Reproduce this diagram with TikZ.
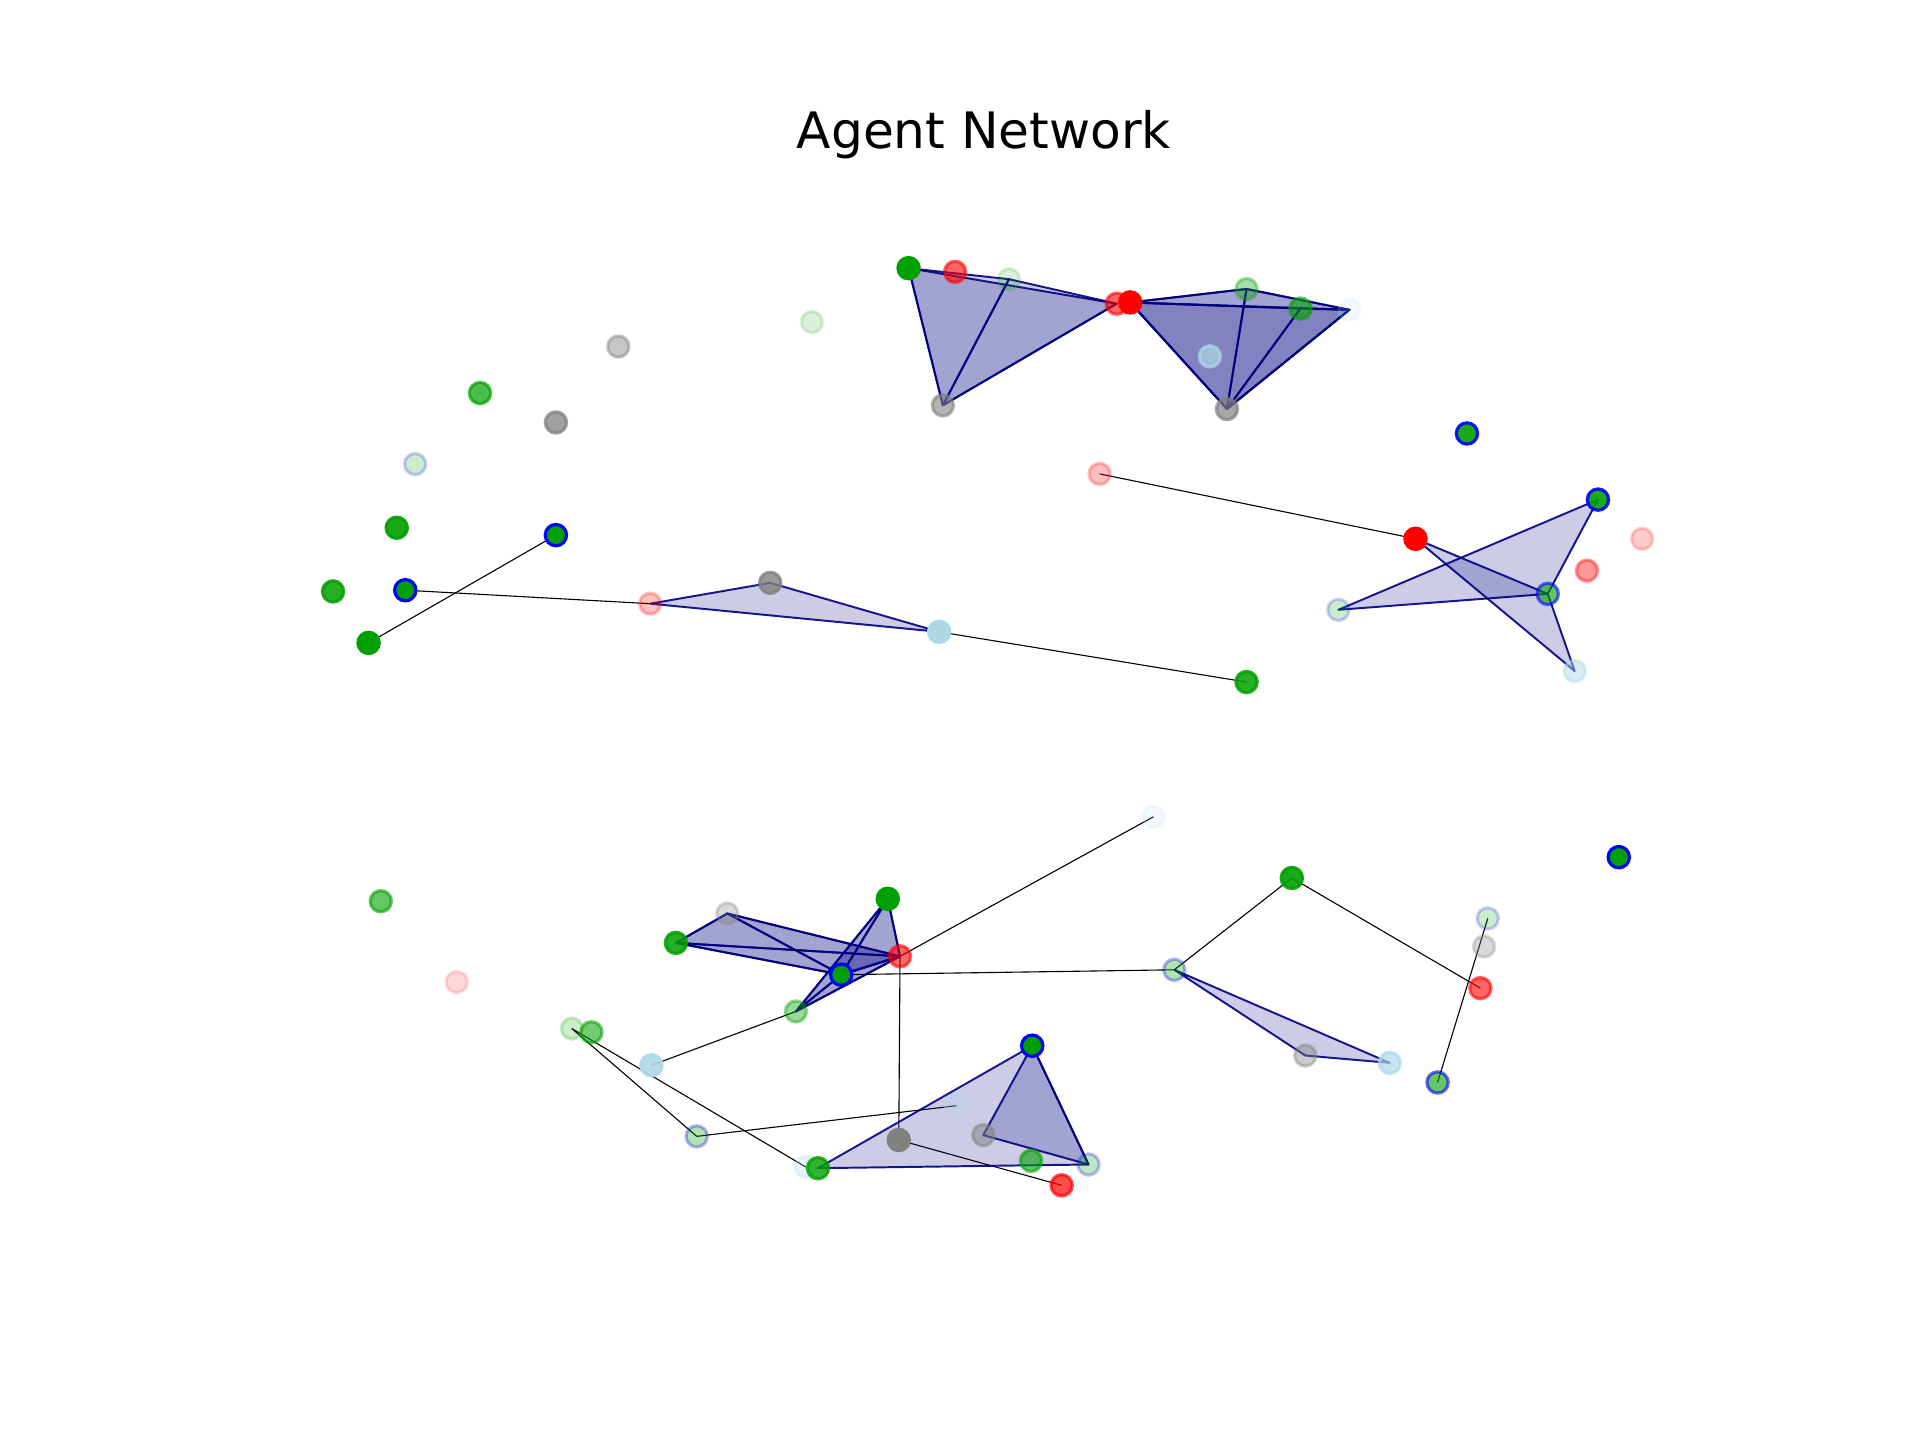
\documentclass[tikz,border=0pt]{standalone}
\usepackage{fontspec}
\newfontfamily\titlefont{DejaVu Sans}
\definecolor{agreen}{RGB}{0,160,0}
\definecolor{ared}{RGB}{255,0,0}
\definecolor{agray}{RGB}{128,128,128}
\definecolor{alblue}{RGB}{173,216,230}
\definecolor{ablue}{RGB}{0,0,255}
\definecolor{anavy}{RGB}{0,0,128}
\tikzset{
  ag/.style n args={3}{circle, inner sep=0pt, minimum size=17.4bp, line width=2.6bp, fill=#1, draw=#2, opacity=#3},
  link/.style={draw=black, line width=0.9bp},
  tri/.style={fill=anavy, fill opacity=0.2, draw=anavy, draw opacity=0.9, line width=1.6bp, line join=round},
}
\begin{document}
\begin{tikzpicture}[x=1bp,y=-1bp]
\useasboundingbox (0,0) rectangle (1568,1176);
% coordinates
\coordinate (t1) at (742,219); \coordinate (t2) at (780,222); \coordinate (t3) at (824,228);
\coordinate (t4) at (912,248); \coordinate (t5) at (923,247); \coordinate (t6) at (770,331);
\coordinate (t7) at (1018,236); \coordinate (t8) at (1062,252); \coordinate (t9) at (1102,253);
\coordinate (t10) at (988,291); \coordinate (t11) at (1002,334);
\coordinate (u1) at (663,263); \coordinate (u2) at (505,283); \coordinate (u3) at (392,321);
\coordinate (u4) at (454,345); \coordinate (u5) at (339,379); \coordinate (u6) at (324,431);
\coordinate (u7) at (272,483); \coordinate (u8) at (331,482); \coordinate (u9) at (454,437);
\coordinate (u10) at (301,525); \coordinate (u11) at (531,493); \coordinate (u12) at (629,476);
\coordinate (u13) at (767,516); \coordinate (u14) at (1018,557);
\coordinate (r1) at (898,387); \coordinate (r2) at (1156,440); \coordinate (r3) at (1198,354);
\coordinate (r4) at (1305,408); \coordinate (r5) at (1341,440); \coordinate (r6) at (1296,466);
\coordinate (r7) at (1264,485); \coordinate (r8) at (1093,498); \coordinate (r9) at (1286,548);
\coordinate (l1) at (942,667); \coordinate (l2) at (311,736); \coordinate (l3) at (373,802);
\coordinate (l4) at (1055,717); \coordinate (l5) at (1322,700); \coordinate (l6) at (1215,750);
\coordinate (l7) at (1212,773); \coordinate (l8) at (1209,807); \coordinate (l9) at (1174,884);
\coordinate (l10) at (959,792); \coordinate (l11) at (1066,862); \coordinate (l12) at (1135,868);
\coordinate (c1) at (594,746); \coordinate (c2) at (552,770); \coordinate (c3) at (725,734);
\coordinate (c4) at (735,781); \coordinate (c5) at (687,796); \coordinate (c6) at (650,826);
\coordinate (c7) at (467,840); \coordinate (c8) at (483,843); \coordinate (c9) at (532,870);
\coordinate (c10) at (569,928); \coordinate (c11) at (781,903); \coordinate (c12) at (658,953);
\coordinate (c13) at (668,954); \coordinate (c14) at (843,854); \coordinate (c15) at (889,951);
\coordinate (c16) at (803,927); \coordinate (c17) at (842,948); \coordinate (c18) at (734,931);
\coordinate (c19) at (867,968);
% title
\node[anchor=base, inner sep=0pt, font=\titlefont\fontsize{41bp}{49bp}\selectfont] (title) at (803.5,121) {Agent Network};
% links
\draw[link] (u9) -- (u10);
\draw[link] (u8) -- (u11);
\draw[link] (u13) -- (u14);
\draw[link] (r1) -- (r2);
\draw[link] (l1) -- (c4);
\draw[link] (c4) -- (c18);
\draw[link] (c18) -- (c19);
\draw[link] (c5) -- (l10);
\draw[link] (l10) -- (l4);
\draw[link] (l4) -- (l8);
\draw[link] (l6) -- (l9);
\draw[link] (c9) -- (c6);
\draw[link] (c7) -- (c10);
\draw[link] (c7) -- (c12);
\draw[link] (c10) -- (c11);
% triangles
\draw[tri] (t1) -- (t4) -- (t6) -- cycle;
\draw[tri] (t1) -- (t3) -- (t6) -- cycle;
\draw[tri] (t3) -- (t4) -- (t6) -- cycle;
\draw[tri] (t5) -- (t9) -- (t11) -- cycle;
\draw[tri] (t5) -- (t7) -- (t11) -- cycle;
\draw[tri] (t7) -- (t9) -- (t11) -- cycle;
\draw[tri] (t5) -- (t7) -- (t9) -- cycle;
\draw[tri] (t5) -- (t8) -- (t11) -- cycle;
\draw[tri] (t8) -- (t9) -- (t11) -- cycle;
\draw[tri] (u11) -- (u12) -- (u13) -- cycle;
\draw[tri] (r8) -- (r4) -- (r7) -- cycle;
\draw[tri] (r2) -- (r7) -- (r9) -- cycle;
\draw[tri] (l10) -- (l11) -- (l12) -- cycle;
\draw[tri] (c3) -- (c4) -- (c5) -- cycle;
\draw[tri] (c3) -- (c4) -- (c6) -- cycle;
\draw[tri] (c3) -- (c5) -- (c6) -- cycle;
\draw[tri] (c4) -- (c5) -- (c6) -- cycle;
\draw[tri] (c2) -- (c1) -- (c4) -- cycle;
\draw[tri] (c2) -- (c1) -- (c5) -- cycle;
\draw[tri] (c2) -- (c4) -- (c5) -- cycle;
\draw[tri] (c1) -- (c4) -- (c5) -- cycle;
\draw[tri] (c13) -- (c14) -- (c15) -- cycle;
\draw[tri] (c14) -- (c16) -- (c15) -- cycle;
% agents
\node[ag={agreen}{agreen}{1}] (n-t1) at (t1) {};
\node[ag={ared}{ared}{0.6}] (n-t2) at (t2) {};
\node[ag={agreen}{agreen}{0.15}] (n-t3) at (t3) {};
\node[ag={ared}{ared}{0.6}] (n-t4) at (t4) {};
\node[ag={ared}{ared}{1}] (n-t5) at (t5) {};
\node[ag={agray}{agray}{0.6}] (n-t6) at (t6) {};
\node[ag={agreen}{agreen}{0.35}] (n-t7) at (t7) {};
\node[ag={agreen}{agreen}{0.6}] (n-t8) at (t8) {};
\node[ag={alblue}{alblue}{0.15}] (n-t9) at (t9) {};
\node[ag={alblue}{alblue}{0.7}] (n-t10) at (t10) {};
\node[ag={agray}{agray}{0.7}] (n-t11) at (t11) {};
\node[ag={agreen}{agreen}{0.15}] (n-u1) at (u1) {};
\node[ag={agray}{agray}{0.45}] (n-u2) at (u2) {};
\node[ag={agreen}{agreen}{0.7}] (n-u3) at (u3) {};
\node[ag={agray}{agray}{0.75}] (n-u4) at (u4) {};
\node[ag={agreen}{ablue}{0.2}] (n-u5) at (u5) {};
\node[ag={agreen}{agreen}{0.9}] (n-u6) at (u6) {};
\node[ag={agreen}{agreen}{0.85}] (n-u7) at (u7) {};
\node[ag={agreen}{ablue}{1}] (n-u8) at (u8) {};
\node[ag={agreen}{ablue}{1}] (n-u9) at (u9) {};
\node[ag={agreen}{agreen}{1}] (n-u10) at (u10) {};
\node[ag={ared}{ared}{0.25}] (n-u11) at (u11) {};
\node[ag={agray}{agray}{0.8}] (n-u12) at (u12) {};
\node[ag={alblue}{alblue}{1}] (n-u13) at (u13) {};
\node[ag={agreen}{agreen}{0.85}] (n-u14) at (u14) {};
\node[ag={ared}{ared}{0.25}] (n-r1) at (r1) {};
\node[ag={ared}{ared}{1}] (n-r2) at (r2) {};
\node[ag={agreen}{ablue}{0.9}] (n-r3) at (r3) {};
\node[ag={agreen}{ablue}{0.9}] (n-r4) at (r4) {};
\node[ag={ared}{ared}{0.2}] (n-r5) at (r5) {};
\node[ag={ared}{ared}{0.4}] (n-r6) at (r6) {};
\node[ag={agreen}{ablue}{0.6}] (n-r7) at (r7) {};
\node[ag={agreen}{ablue}{0.2}] (n-r8) at (r8) {};
\node[ag={alblue}{alblue}{0.45}] (n-r9) at (r9) {};
\node[ag={alblue}{alblue}{0.15}] (n-l1) at (l1) {};
\node[ag={agreen}{agreen}{0.6}] (n-l2) at (l2) {};
\node[ag={ared}{ared}{0.15}] (n-l3) at (l3) {};
\node[ag={agreen}{agreen}{0.9}] (n-l4) at (l4) {};
\node[ag={agreen}{ablue}{1}] (n-l5) at (l5) {};
\node[ag={agreen}{ablue}{0.2}] (n-l6) at (l6) {};
\node[ag={agray}{agray}{0.3}] (n-l7) at (l7) {};
\node[ag={ared}{ared}{0.6}] (n-l8) at (l8) {};
\node[ag={agreen}{ablue}{0.6}] (n-l9) at (l9) {};
\node[ag={agreen}{ablue}{0.3}] (n-l10) at (l10) {};
\node[ag={agray}{agray}{0.4}] (n-l11) at (l11) {};
\node[ag={alblue}{alblue}{0.7}] (n-l12) at (l12) {};
\node[ag={agray}{agray}{0.3}] (n-c1) at (c1) {};
\node[ag={agreen}{agreen}{0.85}] (n-c2) at (c2) {};
\node[ag={agreen}{agreen}{1}] (n-c3) at (c3) {};
\node[ag={ared}{ared}{0.6}] (n-c4) at (c4) {};
\node[ag={agreen}{ablue}{1}] (n-c5) at (c5) {};
\node[ag={agreen}{agreen}{0.4}] (n-c6) at (c6) {};
\node[ag={agreen}{agreen}{0.2}] (n-c7) at (c7) {};
\node[ag={agreen}{agreen}{0.55}] (n-c8) at (c8) {};
\node[ag={alblue}{alblue}{0.9}] (n-c9) at (c9) {};
\node[ag={agreen}{ablue}{0.3}] (n-c10) at (c10) {};
\node[ag={alblue}{alblue}{0.3}] (n-c11) at (c11) {};
\node[ag={alblue}{alblue}{0.25}] (n-c12) at (c12) {};
\node[ag={agreen}{agreen}{0.8}] (n-c13) at (c13) {};
\node[ag={agreen}{ablue}{1}] (n-c14) at (c14) {};
\node[ag={agreen}{ablue}{0.25}] (n-c15) at (c15) {};
\node[ag={agray}{agray}{0.5}] (n-c16) at (c16) {};
\node[ag={agreen}{agreen}{0.6}] (n-c17) at (c17) {};
\node[ag={agray}{agray}{1}] (n-c18) at (c18) {};
\node[ag={ared}{ared}{0.7}] (n-c19) at (c19) {};
\end{tikzpicture}
\end{document}
